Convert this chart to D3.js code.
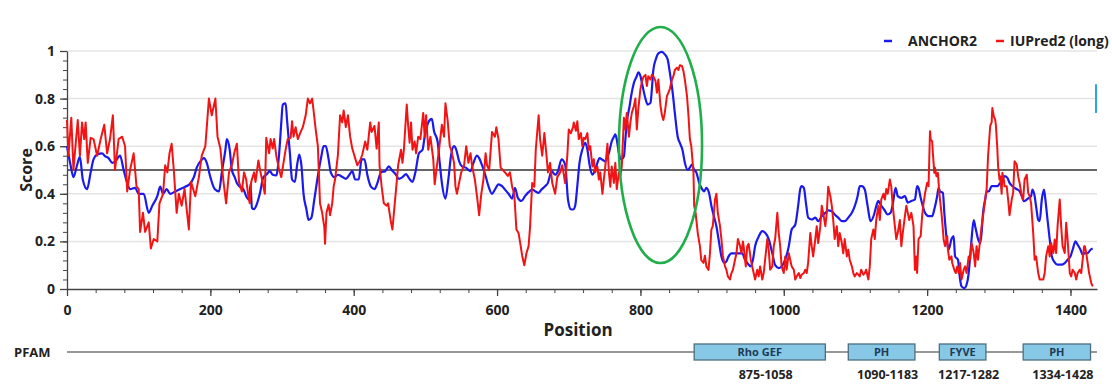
<!DOCTYPE html>
<html>
<head>
<meta charset="utf-8">
<script src="https://cdn.jsdelivr.net/npm/d3@7"></script>
<style>
  html, body { margin: 0; padding: 0; background: #fff; }
  text { font-family: "Open Sans", "Noto Sans", sans-serif; font-weight: 700; fill: #222; }
</style>
</head>
<body>
<div id="chart"></div>
<script>
// ANCHOR2 (blue): positions and scores
const anchorPos = [0,5,9,14,18,22,28,33,37,42,49,53,58,63,67,74,79,84,88,95,100,107,114,119,126,130,134,139,144,151,158,165,171,177,181,187,191,195,200,206,212,216,221,223,227,230,234,237,241,246,250,254,256,258,261,264,269,274,278,283,287,292,296,299,301,305,307,311,314,318,321,324,327,330,334,337,341,345,350,355,358,361,365,368,373,378,382,389,394,398,402,407,411,415,419,424,429,433,438,444,449,453,459,463,468,473,477,482,486,491,496,499,504,509,512,517,520,523,528,532,536,540,543,547,551,557,563,567,572,575,579,584,588,593,597,602,607,611,616,621,625,629,634,639,644,649,653,658,662,667,671,676,681,685,690,695,699,703,706,709,712,715,719,723,726,729,733,736,740,743,747,751,756,760,763,765,767,770,773,777,779,781,785,787,791,795,797,800,803,807,810,814,816,818,822,825,830,834,838,841,845,848,852,855,859,862,866,869,872,875,878,882,885,889,892,896,899,903,906,909,913,917,920,923,927,932,936,942,946,949,954,957,960,965,970,974,979,984,988,993,997,1002,1007,1011,1016,1020,1023,1025,1028,1031,1034,1039,1044,1048,1053,1058,1062,1067,1071,1076,1081,1085,1090,1095,1099,1103,1106,1109,1113,1117,1121,1126,1129,1132,1135,1140,1145,1149,1152,1156,1159,1164,1169,1173,1178,1183,1186,1188,1191,1194,1197,1202,1207,1210,1214,1216,1218,1222,1224,1228,1230,1234,1237,1239,1243,1246,1248,1252,1255,1258,1260,1262,1265,1267,1269,1271,1274,1276,1278,1281,1283,1286,1290,1295,1298,1302,1305,1308,1312,1315,1319,1322,1326,1329,1332,1335,1339,1342,1345,1347,1350,1352,1355,1357,1360,1363,1365,1368,1371,1374,1378,1382,1387,1392,1396,1400,1403,1407,1410,1414,1417,1420,1424,1428,1431];
const anchorScore = [0.60,0.52,0.47,0.52,0.555,0.46,0.42,0.49,0.545,0.565,0.57,0.558,0.55,0.53,0.535,0.56,0.50,0.445,0.42,0.425,0.40,0.40,0.32,0.35,0.39,0.43,0.40,0.42,0.40,0.41,0.42,0.43,0.44,0.47,0.51,0.54,0.55,0.53,0.47,0.42,0.41,0.49,0.585,0.63,0.585,0.50,0.47,0.445,0.43,0.42,0.39,0.375,0.44,0.34,0.335,0.35,0.40,0.47,0.48,0.495,0.48,0.477,0.57,0.70,0.775,0.78,0.71,0.57,0.46,0.45,0.52,0.565,0.52,0.40,0.335,0.29,0.30,0.375,0.475,0.56,0.60,0.60,0.545,0.49,0.47,0.48,0.475,0.463,0.48,0.495,0.46,0.46,0.545,0.545,0.48,0.43,0.42,0.445,0.49,0.495,0.515,0.50,0.48,0.463,0.47,0.483,0.466,0.45,0.49,0.57,0.585,0.64,0.70,0.715,0.664,0.62,0.53,0.446,0.38,0.46,0.565,0.60,0.586,0.537,0.515,0.509,0.495,0.53,0.56,0.55,0.52,0.475,0.432,0.40,0.418,0.44,0.432,0.418,0.40,0.38,0.425,0.383,0.37,0.39,0.407,0.418,0.411,0.404,0.418,0.432,0.446,0.495,0.48,0.495,0.545,0.523,0.375,0.335,0.334,0.35,0.434,0.53,0.586,0.614,0.586,0.523,0.48,0.495,0.53,0.55,0.543,0.536,0.572,0.62,0.64,0.65,0.628,0.57,0.545,0.558,0.628,0.70,0.77,0.81,0.867,0.895,0.91,0.895,0.853,0.80,0.775,0.782,0.84,0.92,0.97,0.99,0.996,0.986,0.965,0.91,0.825,0.74,0.64,0.614,0.58,0.53,0.50,0.51,0.523,0.50,0.49,0.446,0.425,0.41,0.425,0.40,0.35,0.30,0.264,0.21,0.137,0.11,0.116,0.137,0.15,0.15,0.15,0.15,0.123,0.11,0.095,0.123,0.18,0.22,0.243,0.236,0.21,0.15,0.10,0.088,0.095,0.123,0.18,0.25,0.27,0.348,0.42,0.432,0.425,0.36,0.30,0.292,0.30,0.285,0.306,0.32,0.33,0.327,0.313,0.30,0.285,0.285,0.30,0.32,0.348,0.39,0.432,0.432,0.418,0.348,0.285,0.313,0.348,0.37,0.355,0.334,0.313,0.32,0.355,0.425,0.39,0.383,0.39,0.363,0.37,0.376,0.432,0.425,0.383,0.348,0.32,0.306,0.306,0.334,0.39,0.425,0.41,0.404,0.32,0.193,0.165,0.21,0.222,0.137,0.123,0.04,0.011,0.004,0.018,0.067,0.137,0.21,0.29,0.264,0.236,0.21,0.193,0.236,0.32,0.376,0.41,0.41,0.432,0.432,0.432,0.446,0.46,0.474,0.467,0.446,0.432,0.425,0.418,0.411,0.39,0.369,0.376,0.383,0.39,0.418,0.39,0.348,0.29,0.285,0.376,0.418,0.376,0.29,0.21,0.137,0.112,0.102,0.102,0.109,0.123,0.137,0.165,0.20,0.186,0.165,0.144,0.151,0.151,0.165,0.17];

// IUPred2 (long) (red)
const iupredPos = [0,2,6,9,15,18,21,24,26,29,33,37,42,47,52,56,60,64,67,72,77,81,84,88,93,97,100,102,106,109,114,117,121,126,129,134,137,140,143,146,149,153,156,160,164,170,173,179,184,188,193,198,202,207,210,214,218,222,226,230,234,237,240,244,247,250,253,255,257,261,263,267,270,274,276,278,282,284,287,289,292,296,299,301,305,308,312,314,316,319,322,326,329,333,336,339,342,344,347,350,353,356,359,360,362,365,367,370,372,374,378,381,384,386,389,392,395,398,402,405,409,412,416,419,423,425,429,432,435,436,439,442,446,448,452,454,457,460,462,466,468,470,474,476,478,480,482,485,487,490,493,497,499,501,504,507,511,513,516,519,523,526,528,531,534,536,540,542,544,548,550,554,557,560,563,565,569,572,575,578,581,584,586,589,593,597,599,602,605,608,611,615,618,621,624,627,630,633,635,638,641,644,646,649,652,654,658,660,663,666,669,671,674,677,681,684,688,691,695,698,700,703,706,707,710,712,714,717,719,721,723,726,728,730,733,735,737,740,742,744,747,749,751,754,756,758,760,763,765,767,770,772,774,777,779,781,784,786,788,791,793,795,797,800,802,804,807,809,811,814,816,818,821,823,825,828,830,832,834,837,839,841,844,846,848,851,853,855,858,860,862,865,867,869,871,874,875,877,880,883,885,888,890,892,895,897,899,901,904,906,908,911,913,915,918,920,922,925,927,929,932,934,936,939,941,943,944,947,949,951,954,956,958,960,963,965,967,970,972,974,977,979,981,984,986,988,991,993,995,997,1000,1002,1004,1007,1009,1011,1014,1016,1018,1021,1023,1025,1028,1030,1032,1034,1037,1039,1041,1044,1046,1048,1051,1053,1055,1058,1060,1062,1065,1067,1069,1071,1074,1076,1078,1081,1083,1085,1088,1090,1092,1095,1097,1099,1102,1104,1106,1108,1111,1113,1115,1118,1120,1122,1125,1127,1129,1132,1134,1136,1139,1141,1143,1145,1148,1150,1152,1155,1157,1159,1162,1164,1166,1169,1171,1173,1175,1178,1181,1183,1185,1186,1188,1191,1193,1195,1197,1200,1202,1204,1205,1207,1208,1210,1211,1213,1215,1217,1220,1222,1223,1225,1228,1229,1231,1234,1235,1238,1240,1242,1244,1246,1248,1251,1253,1255,1258,1260,1262,1265,1267,1269,1271,1274,1276,1278,1281,1283,1285,1288,1290,1291,1293,1295,1296,1298,1299,1301,1302,1304,1305,1307,1308,1311,1313,1315,1318,1320,1322,1325,1327,1329,1332,1334,1336,1339,1341,1343,1345,1348,1350,1352,1355,1357,1359,1362,1364,1366,1369,1371,1373,1376,1378,1380,1382,1385,1387,1389,1392,1394,1396,1399,1401,1403,1406,1408,1410,1413,1415,1417,1419,1420,1422,1424,1426,1429,1431];
const iupredScore = [0.71,0.56,0.72,0.50,0.71,0.56,0.70,0.63,0.70,0.53,0.635,0.63,0.56,0.63,0.69,0.57,0.63,0.73,0.50,0.63,0.64,0.60,0.41,0.50,0.57,0.43,0.42,0.24,0.32,0.24,0.28,0.17,0.21,0.20,0.36,0.40,0.52,0.49,0.57,0.61,0.50,0.32,0.40,0.35,0.42,0.25,0.45,0.39,0.47,0.56,0.60,0.80,0.73,0.80,0.64,0.59,0.46,0.36,0.49,0.52,0.58,0.61,0.45,0.41,0.49,0.46,0.39,0.36,0.45,0.49,0.45,0.54,0.49,0.43,0.40,0.635,0.57,0.63,0.59,0.63,0.56,0.50,0.47,0.51,0.585,0.63,0.635,0.705,0.64,0.68,0.63,0.66,0.68,0.73,0.80,0.78,0.80,0.75,0.67,0.60,0.36,0.32,0.26,0.19,0.32,0.355,0.31,0.36,0.43,0.46,0.565,0.73,0.70,0.75,0.68,0.73,0.64,0.59,0.55,0.52,0.54,0.565,0.62,0.585,0.70,0.66,0.685,0.59,0.70,0.52,0.43,0.36,0.35,0.36,0.28,0.25,0.35,0.45,0.52,0.585,0.53,0.585,0.775,0.685,0.615,0.70,0.585,0.62,0.57,0.64,0.63,0.74,0.64,0.73,0.585,0.64,0.545,0.44,0.515,0.585,0.69,0.64,0.78,0.71,0.60,0.585,0.53,0.43,0.40,0.46,0.49,0.52,0.60,0.53,0.57,0.52,0.46,0.39,0.31,0.40,0.46,0.57,0.52,0.50,0.66,0.64,0.68,0.63,0.51,0.50,0.49,0.475,0.49,0.43,0.40,0.25,0.235,0.18,0.14,0.10,0.15,0.18,0.26,0.445,0.43,0.585,0.73,0.63,0.56,0.655,0.56,0.49,0.53,0.445,0.40,0.47,0.49,0.52,0.445,0.56,0.67,0.655,0.68,0.70,0.665,0.705,0.63,0.655,0.60,0.635,0.63,0.655,0.585,0.60,0.515,0.545,0.49,0.515,0.46,0.49,0.40,0.46,0.515,0.61,0.49,0.43,0.515,0.446,0.53,0.42,0.49,0.475,0.515,0.72,0.67,0.74,0.64,0.70,0.74,0.77,0.80,0.67,0.755,0.84,0.87,0.89,0.90,0.853,0.894,0.88,0.90,0.894,0.874,0.825,0.88,0.77,0.73,0.71,0.74,0.81,0.825,0.84,0.88,0.894,0.92,0.93,0.92,0.94,0.937,0.916,0.88,0.81,0.73,0.63,0.60,0.49,0.35,0.32,0.235,0.18,0.12,0.11,0.14,0.095,0.08,0.15,0.25,0.265,0.375,0.40,0.32,0.265,0.21,0.14,0.095,0.08,0.053,0.04,0.067,0.08,0.123,0.15,0.21,0.18,0.15,0.20,0.18,0.095,0.18,0.19,0.123,0.095,0.067,0.04,0.081,0.053,0.095,0.04,0.067,0.123,0.21,0.165,0.081,0.095,0.18,0.21,0.32,0.235,0.18,0.095,0.067,0.137,0.081,0.15,0.123,0.095,0.081,0.04,0.053,0.067,0.046,0.06,0.067,0.081,0.067,0.11,0.235,0.18,0.137,0.21,0.264,0.193,0.264,0.35,0.32,0.264,0.32,0.43,0.39,0.35,0.29,0.21,0.264,0.18,0.235,0.193,0.15,0.21,0.137,0.165,0.123,0.095,0.067,0.053,0.067,0.06,0.053,0.081,0.06,0.067,0.081,0.04,0.095,0.21,0.25,0.21,0.29,0.35,0.29,0.376,0.40,0.376,0.42,0.40,0.46,0.43,0.35,0.264,0.21,0.235,0.29,0.18,0.235,0.306,0.35,0.32,0.29,0.32,0.264,0.08,0.137,0.067,0.21,0.222,0.306,0.36,0.40,0.446,0.432,0.663,0.628,0.62,0.572,0.488,0.509,0.474,0.488,0.404,0.32,0.25,0.208,0.18,0.222,0.165,0.123,0.137,0.109,0.08,0.067,0.095,0.067,0.109,0.04,0.081,0.095,0.067,0.137,0.123,0.193,0.151,0.095,0.18,0.123,0.208,0.264,0.306,0.376,0.418,0.558,0.685,0.70,0.76,0.726,0.712,0.685,0.586,0.516,0.46,0.474,0.40,0.488,0.46,0.432,0.432,0.376,0.31,0.376,0.404,0.537,0.523,0.474,0.446,0.39,0.376,0.46,0.48,0.404,0.39,0.362,0.236,0.123,0.137,0.067,0.04,0.04,0.04,0.067,0.137,0.18,0.137,0.193,0.151,0.208,0.151,0.264,0.376,0.264,0.18,0.151,0.278,0.208,0.067,0.053,0.081,0.067,0.04,0.067,0.081,0.067,0.123,0.18,0.18,0.151,0.109,0.067,0.025,0.011];

const xMajorTicks = [0, 200, 400, 600, 800, 1000, 1200, 1400];
const yMajorTicks = [0, 0.2, 0.4, 0.6, 0.8, 1];
const threshold = 0.5;

// PFAM domains
const pfamNames = ['Rho GEF', 'PH', 'FYVE', 'PH'];
const pfamStart = [875, 1090, 1217, 1334];
const pfamEnd = [1058, 1183, 1282, 1428];

const seqLength = 1437;

const width = 1112;
const height = 385;
const margin = { left: 67, right: 15, top: 51, bottom: 96 };

const svg = d3.select('#chart')
  .append('svg')
  .attr('width', width)
  .attr('height', height);

const x = d3.scaleLinear()
  .domain([0, seqLength])
  .range([margin.left, width - margin.right]);

const y = d3.scaleLinear()
  .domain([0, 1])
  .range([height - margin.bottom, margin.top]);

// light horizontal grid
svg.append('g')
  .selectAll('line')
  .data(yMajorTicks.filter(d => d > 0))
  .enter()
  .append('line')
  .attr('x1', x(0))
  .attr('x2', x(seqLength))
  .attr('y1', d => y(d))
  .attr('y2', d => y(d))
  .attr('stroke', '#e4e4e4')
  .attr('stroke-width', 1.5);

// threshold line
svg.append('line')
  .attr('x1', x(0))
  .attr('x2', x(seqLength))
  .attr('y1', y(threshold))
  .attr('y2', y(threshold))
  .attr('stroke', '#333')
  .attr('stroke-width', 1.3);

// minor ticks first, major on top
const yMinor = d3.range(0, 1.0001, 0.04);
svg.append('g')
  .attr('transform', `translate(${x(0)},0)`)
  .call(d3.axisLeft(y).tickValues(yMinor).tickSize(4).tickFormat(''))
  .call(g => g.select('.domain').remove())
  .call(g => g.selectAll('line').attr('stroke', '#444'));

const yAxis = svg.append('g')
  .attr('transform', `translate(${x(0)},0)`)
  .call(d3.axisLeft(y).tickValues(yMajorTicks).tickSize(7).tickSizeOuter(0).tickPadding(5)
    .tickFormat(d => d === 0 || d === 1 ? String(d) : d3.format('.1f')(d)));
yAxis.select('.domain').attr('stroke', '#444').attr('stroke-width', 1.3);
yAxis.selectAll('line').attr('stroke', '#444').attr('stroke-width', 1.3);
yAxis.selectAll('text').style('font-size', '14px').style('font-family', null);

const xMinor = d3.range(0, 1401, 40);
svg.append('g')
  .attr('transform', `translate(0,${y(0)})`)
  .call(d3.axisBottom(x).tickValues(xMinor).tickSize(4).tickFormat(''))
  .call(g => g.select('.domain').remove())
  .call(g => g.selectAll('line').attr('stroke', '#444'));

const xAxis = svg.append('g')
  .attr('transform', `translate(0,${y(0)})`)
  .call(d3.axisBottom(x).tickValues(xMajorTicks).tickSize(7).tickSizeOuter(0).tickPadding(9)
    .tickFormat(d3.format('d')));
xAxis.select('.domain').attr('stroke', '#444').attr('stroke-width', 1.3);
xAxis.selectAll('line').attr('stroke', '#444').attr('stroke-width', 1.3);
xAxis.selectAll('text').style('font-size', '14px').style('font-family', null);

// axis titles
svg.append('text')
  .attr('transform', `translate(26,${y(0.5)}) rotate(-90)`)
  .attr('text-anchor', 'middle')
  .attr('dy', '0.35em')
  .style('font-size', '16px')
  .text('Score');

svg.append('text')
  .attr('x', x(713))
  .attr('y', 336)
  .attr('text-anchor', 'middle')
  .style('font-size', '17px')
  .text('Position');

// series
const anchorData = anchorPos.map((p, i) => [p, anchorScore[i]]);
const iupredData = iupredPos.map((p, i) => [p, iupredScore[i]]);

svg.append('path')
  .datum(anchorData)
  .attr('fill', 'none')
  .attr('stroke', '#1a1aee')
  .attr('stroke-width', 2.2)
  .attr('stroke-linejoin', 'round')
  .attr('d', d3.line().x(d => x(d[0])).y(d => y(d[1])).curve(d3.curveMonotoneX));

svg.append('path')
  .datum(iupredData)
  .attr('fill', 'none')
  .attr('stroke', '#f21414')
  .attr('stroke-width', 2)
  .attr('stroke-linejoin', 'round')
  .attr('d', d3.line().x(d => x(d[0])).y(d => y(d[1])));

// highlighted region
const hiCenter = 828, hiHalfWidth = 58, hiScore = 0.605, hiHalfHeight = 0.496;
svg.append('ellipse')
  .attr('cx', x(hiCenter))
  .attr('cy', y(hiScore))
  .attr('rx', x(hiCenter + hiHalfWidth) - x(hiCenter))
  .attr('ry', y(0) - y(hiHalfHeight))
  .attr('fill', 'none')
  .attr('stroke', '#1fae4a')
  .attr('stroke-width', 2.6);

// legend
const legend = svg.append('g').attr('transform', 'translate(884,41)');
[['ANCHOR2', '#1a1aee', 0], ['IUPred2 (long)', '#f21414', 112]].forEach(([label, col, dx]) => {
  legend.append('line')
    .attr('x1', dx).attr('x2', dx + 8)
    .attr('y1', 0).attr('y2', 0)
    .attr('stroke', col).attr('stroke-width', 2.5);
  legend.append('text')
    .attr('x', dx + (dx ? 14 : 24)).attr('y', 0).attr('dy', '0.35em')
    .style('font-size', '14px')
    .text(label);
});

// small cyan mark at right edge
svg.append('line')
  .attr('x1', x(seqLength) - 1).attr('x2', x(seqLength) - 1)
  .attr('y1', y(0.86)).attr('y2', y(0.74))
  .attr('stroke', '#2aa8e0').attr('stroke-width', 2);

// PFAM track
const pfamY = 352;
svg.append('text')
  .attr('x', 14).attr('y', pfamY).attr('dy', '0.35em')
  .style('font-size', '13px')
  .text('PFAM');

svg.append('line')
  .attr('x1', x(0)).attr('x2', x(seqLength))
  .attr('y1', pfamY).attr('y2', pfamY)
  .attr('stroke', '#333').attr('stroke-width', 1.2);

const domains = pfamNames.map((n, i) => ({ name: n, start: pfamStart[i], end: pfamEnd[i] }));

const dg = svg.append('g')
  .selectAll('g')
  .data(domains)
  .enter()
  .append('g');

dg.append('rect')
  .attr('x', d => x(d.start))
  .attr('y', pfamY - 8)
  .attr('width', d => x(d.end) - x(d.start))
  .attr('height', 16)
  .attr('fill', '#86c8e6')
  .attr('stroke', '#4d6f80')
  .attr('stroke-width', 1.3);

dg.append('text')
  .attr('x', d => (x(d.start) + x(d.end)) / 2)
  .attr('y', pfamY)
  .attr('dy', '0.35em')
  .attr('text-anchor', 'middle')
  .style('font-size', '11px')
  .style('fill', '#1f3b56')
  .text(d => d.name);

dg.append('text')
  .attr('x', d => (x(d.start) + x(d.end)) / 2 + 6)
  .attr('y', 375)
  .attr('dy', '0.35em')
  .attr('text-anchor', 'middle')
  .style('font-size', '12.5px')
  .text(d => `${d.start}-${d.end}`);
</script>
</body>
</html>
